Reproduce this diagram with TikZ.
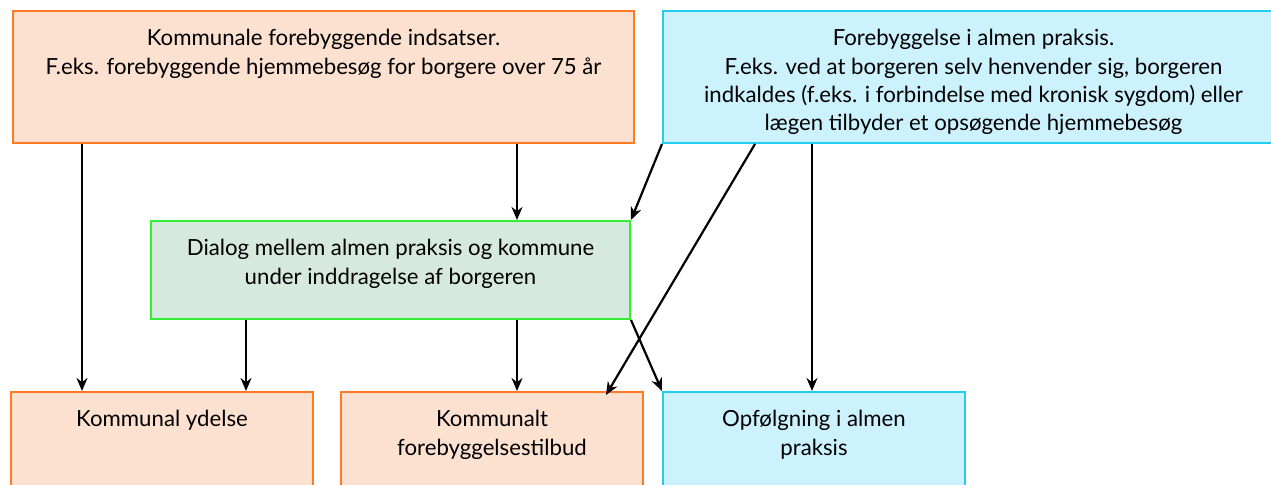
\documentclass[tikz,border=0pt]{standalone}
\usepackage{fontspec}
\setmainfont{Lato}
\usetikzlibrary{arrows.meta,positioning}
\definecolor{orgline}{HTML}{FF7A22}
\definecolor{orgfill}{HTML}{FDE1D0}
\definecolor{cyanline}{HTML}{22CCF2}
\definecolor{cyanfill}{HTML}{CCF2FE}
\definecolor{grnline}{HTML}{33EE33}
\definecolor{grnfill}{HTML}{D6E9DE}

\begin{document}
\begin{tikzpicture}[x=0.5pt, y=-0.5pt,
  box/.style={draw, line width=1pt, anchor=north west, inner sep=0pt},
  orgbox/.style={box, draw=orgline, fill=orgfill},
  cyanbox/.style={box, draw=cyanline, fill=cyanfill},
  grnbox/.style={box, draw=grnline, fill=grnfill},
  wide/.style={minimum width=310.5pt, minimum height=66pt},
  small/.style={minimum width=151pt, minimum height=66pt},
  txt/.style={align=center, inner sep=0pt,
    font=\fontsize{11.1}{14.2}\selectfont},
  arr/.style={-{Stealth[length=6.5pt,width=5.5pt]}, line width=1.1pt}]
\useasboundingbox (0,0) rectangle (1271,485);
% top row
\node[orgbox, wide] (kommune) at (12,10) {};
\node[cyanbox, wide] (almen) at (662,10) {};
% middle
\node[grnbox, minimum width=239.5pt, minimum height=49pt] (dialog)
  at (150,220) {};
% bottom row
\node[orgbox, small] (ydelse) at (10,391) {};
\node[orgbox, small] (tilbud) at (340,391) {};
\node[cyanbox, small] (opfolg) at (662,391) {};
% texts
\node[txt, below=9.5pt of kommune.north] (kommunetxt)
  {Kommunale forebyggende indsatser.\\
   F.eks. forebyggende hjemmebesøg for borgere over 75 år};
\node[txt, below=9.5pt of almen.north] (almentxt)
  {Forebyggelse i almen praksis.\\
   F.eks. ved at borgeren selv henvender sig, borgeren\\
   indkaldes (f.eks. i forbindelse med kronisk sygdom) eller\\
   lægen tilbyder et opsøgende hjemmebesøg};
\node[txt, below=9.5pt of dialog.north] (dialogtxt)
  {Dialog mellem almen praksis og kommune\\
   under inddragelse af borgeren};
\node[txt, below=9.5pt of ydelse.north] (ydelsetxt) {Kommunal ydelse};
\node[txt, below=9.5pt of tilbud.north] (tilbudtxt)
  {Kommunalt\\forebyggelsestilbud};
\node[txt, below=9.5pt of opfolg.north] (opfolgtxt)
  {Opfølgning i almen\\praksis};
% connectors
\coordinate (k1) at ([xshift=35pt]kommune.south west);
\coordinate (k2) at ([xshift=252.5pt]kommune.south west);
\coordinate (a1) at ([xshift=46.5pt]almen.south west);
\coordinate (a2) at ([xshift=75pt]almen.south west);
\coordinate (d1) at ([xshift=48pt]dialog.south west);
\coordinate (d2) at ([xshift=183.5pt]dialog.south west);
\coordinate (t1) at ([xshift=-19pt,yshift=-2pt]tilbud.north east);
\draw[arr] (k1) -- (k1 |- ydelse.north);
\draw[arr] (k2) -- (k2 |- dialog.north);
\draw[arr] (almen.south west) -- (dialog.north east);
\draw[arr] (a1) -- (t1);
\draw[arr] (a2) -- (a2 |- opfolg.north);
\draw[arr] (d1) -- (d1 |- ydelse.north);
\draw[arr] (d2) -- (d2 |- tilbud.north);
\draw[arr] (dialog.south east) -- (opfolg.north west);
\end{tikzpicture}
\end{document}
